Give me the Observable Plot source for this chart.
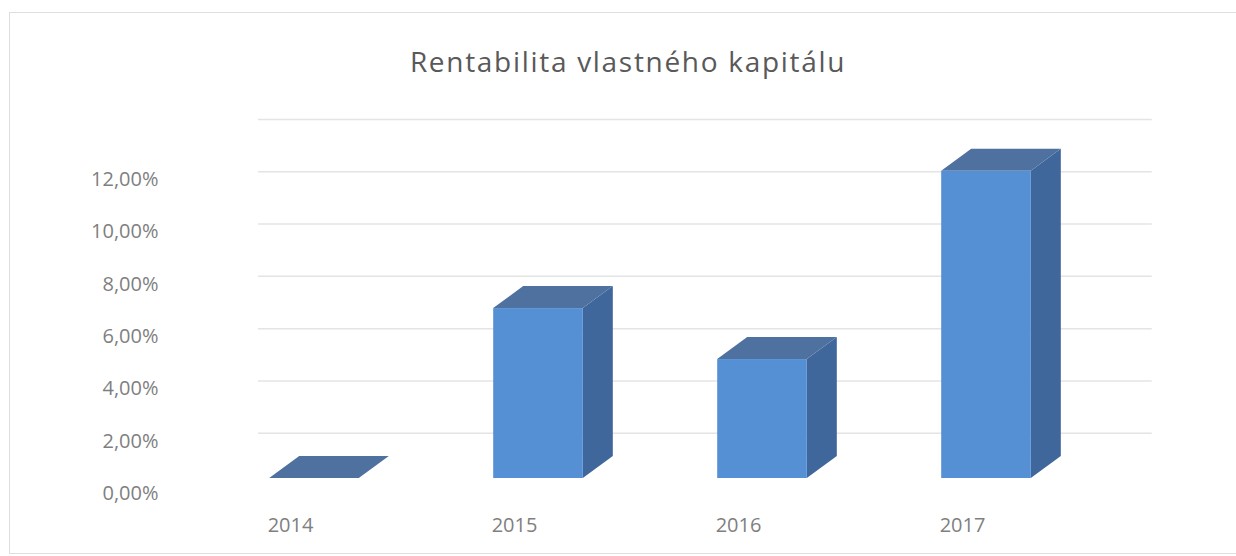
<!DOCTYPE html>
<html>
<head>
<meta charset="utf-8">
<script src="https://cdn.jsdelivr.net/npm/d3@7"></script>
<script src="https://cdn.jsdelivr.net/npm/@observablehq/plot@0.6"></script>
<style>
  html, body { margin: 0; padding: 0; background: #ffffff; }
  #wrap { position: relative; width: 1236px; height: 556px; overflow: hidden; }
  #frame { position: absolute; left: 9px; top: 12px; width: 1300px; height: 542px;
           border: 1px solid #dedede; box-sizing: border-box; }
  #title { position: relative; height: 95px; }
  #title span { position: absolute; left: 0; width: 1256px; top: 44px; text-align: center;
           font-family: "Open Sans", sans-serif; font-size: 28px; letter-spacing: 1.7px;
           line-height: 34px; color: #595959; }
  #chart { position: relative; }
</style>
</head>
<body>
<div id="wrap">
  <div id="frame"></div>
  <div id="title"><span>Rentabilita vlastného kapitálu</span></div>
  <div id="chart"></div>
</div>
<script>
// Data
const years = [2014, 2015, 2016, 2017];
const roe = [0.0, 6.5, 4.55, 11.75];          // Rentabilita vlastného kapitálu, %
const yTickValues = [0, 2, 4, 6, 8, 10, 12];   // labelled ticks
const gridValues = [2, 4, 6, 8, 10, 12, 14];   // back-wall gridlines

// Styling / 3D geometry constants (not data)
const halfW = 0.2;          // half bar width in year units
const depthX = 0.134;       // oblique depth, x (year units)
const depthY = 0.84;        // oblique depth, y (percentage units)
const frontColor = "#5590d5";
const sideColor = "#40679b";
const topColor = "#4e71a0";

const fmt = v => v.toFixed(2).replace(".", ",") + "%";

const bars = years.map((yr, i) => ({year: yr, v: roe[i]}));
const sidePts = years.flatMap((yr, i) => [
  {year: yr, x: yr + halfW, y1: 0, y2: roe[i]},
  {year: yr, x: yr + halfW + depthX, y1: depthY, y2: roe[i] + depthY}
]);
const topPts = years.flatMap((yr, i) => [
  {year: yr, y: roe[i], x1: yr - halfW, x2: yr + halfW},
  {year: yr, y: roe[i] + depthY, x1: yr - halfW + depthX, x2: yr + halfW + depthX}
]);

const chart = Plot.plot({
  width: 1236,
  height: 461,
  marginLeft: 165,
  marginRight: 0,
  marginTop: 17,
  marginBottom: 78,
  x: {type: "linear", domain: [2013, 2018], range: [90, 1210], axis: null},
  y: {domain: [0, 14], axis: null},
  style: {fontFamily: "'Open Sans', sans-serif", fontSize: "20px", background: "transparent"},
  marks: [
    Plot.ruleY(gridValues, {y: d => d, x1: () => 2013.75, x2: () => 2017.74, dy: 7,
      stroke: "#e4e4e4", strokeWidth: 1.5}),
    Plot.text(yTickValues, {y: d => d, frameAnchor: "left", textAnchor: "end", dx: -7, dy: 15,
      text: fmt, fill: "#7f7f7f", fontSize: 20}),
    Plot.areaY(sidePts, {x: "x", y1: "y1", y2: "y2", z: "year", fill: sideColor}),
    Plot.areaX(topPts, {y: "y", x1: "x1", x2: "x2", z: "year", fill: topColor}),
    Plot.rect(bars, {x1: d => d.year - halfW, x2: d => d.year + halfW, y1: () => 0, y2: "v",
      fill: frontColor}),
    Plot.text(years, {x: d => d, y: () => 0, dx: -24, dy: 47, text: d => String(d),
      fill: "#7f7f7f", fontSize: 20})
  ]
});
document.getElementById("chart").appendChild(chart);
</script>
</body>
</html>
